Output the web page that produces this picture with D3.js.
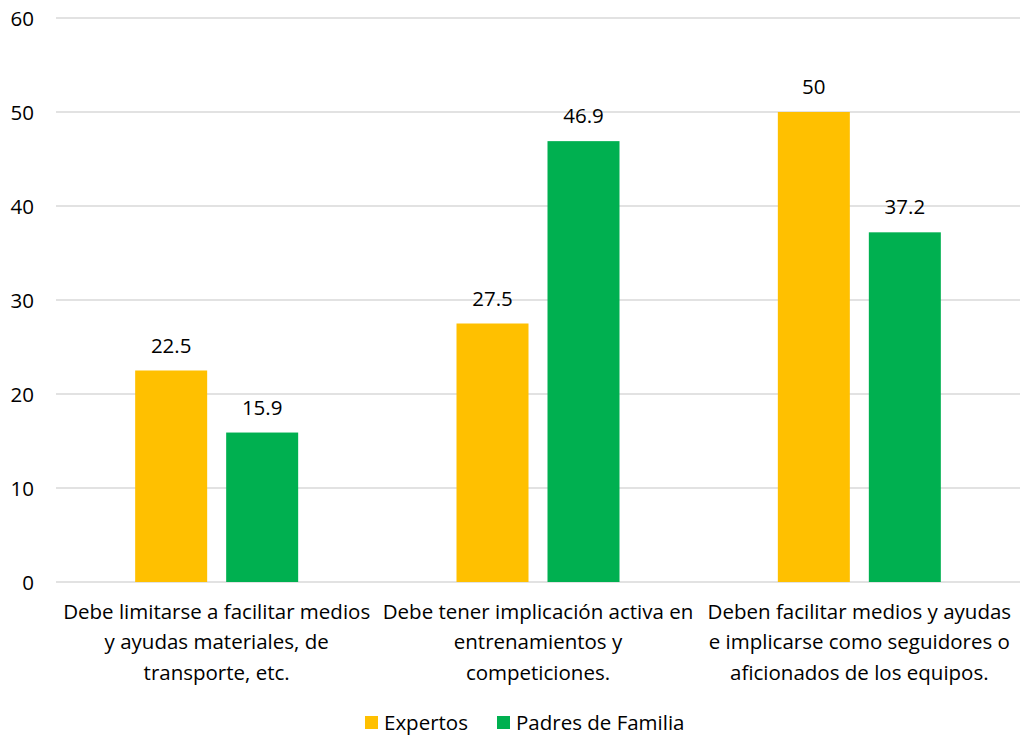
<!DOCTYPE html>
<html><head><meta charset="utf-8">
<script src="https://cdn.jsdelivr.net/npm/d3@7"></script>
<style>body{margin:0;background:#fff}svg{display:block}text{font-family:"Open Sans",sans-serif;fill:#000}</style>
</head><body>
<svg id="c" width="1020" height="740"></svg>
<script>
const categories = [
  ["Debe limitarse a facilitar medios", "y ayudas materiales, de", "transporte, etc."],
  ["Debe tener implicación activa en", "entrenamientos y", "competiciones."],
  ["Deben facilitar medios y ayudas", "e implicarse como seguidores o", "aficionados de los equipos."]
];
const seriesNames = ["Expertos", "Padres de Familia"];
const expertos = [22.5, 27.5, 50];
const padres = [15.9, 46.9, 37.2];
const yTicks = [0, 10, 20, 30, 40, 50, 60];
const colors = ["#FFC000", "#00B050"];

(function () {
const svg = d3.select("#c");
const pL = 56, pR = 1020, pT = 18, pB = 582;
const x = d3.scaleBand().domain(d3.range(categories.length)).range([pL, pR]);
const y = d3.scaleLinear().domain([0, 60]).range([pB, pT]);
const barW = 72, gap = 19;
const fs = 20.5;

svg.append("g").selectAll("line").data(yTicks).join("line")
  .attr("x1", pL).attr("x2", pR)
  .attr("y1", d => y(d)).attr("y2", d => y(d))
  .attr("stroke", "#D9D9D9").attr("stroke-width", 1.3);

svg.append("g").selectAll("text").data(yTicks).join("text")
  .attr("x", 34).attr("y", d => y(d) + 7.5)
  .attr("text-anchor", "end").attr("font-size", fs).text(d => d);

const series = [expertos, padres];
series.forEach((vals, s) => {
  const off = (x.bandwidth() - (2 * barW + gap)) / 2 + s * (barW + gap);
  const g = svg.append("g");
  g.selectAll("rect").data(vals).join("rect")
    .attr("x", (d, i) => x(i) + off).attr("width", barW)
    .attr("y", d => y(d)).attr("height", d => y(0) - y(d))
    .attr("fill", colors[s]);
  g.selectAll("text").data(vals).join("text")
    .attr("x", (d, i) => x(i) + off + barW / 2).attr("y", d => y(d) - 18)
    .attr("text-anchor", "middle").attr("font-size", fs).text(d => d);
});

const cg = svg.append("g");
categories.forEach((lines, i) => {
  lines.forEach((l, j) => {
    cg.append("text").attr("x", x(i) + x.bandwidth() / 2).attr("y", 618.5 + j * 30.5)
      .attr("text-anchor", "middle").attr("font-size", fs).text(l);
  });
});

const lg = svg.append("g");
const lx = [365, 497];
seriesNames.forEach((n, i) => {
  lg.append("rect").attr("x", lx[i]).attr("y", 716).attr("width", 13).attr("height", 13).attr("fill", colors[i]);
  lg.append("text").attr("x", lx[i] + 19).attr("y", 730).attr("font-size", fs).text(n);
});
})();
</script>
</body></html>
